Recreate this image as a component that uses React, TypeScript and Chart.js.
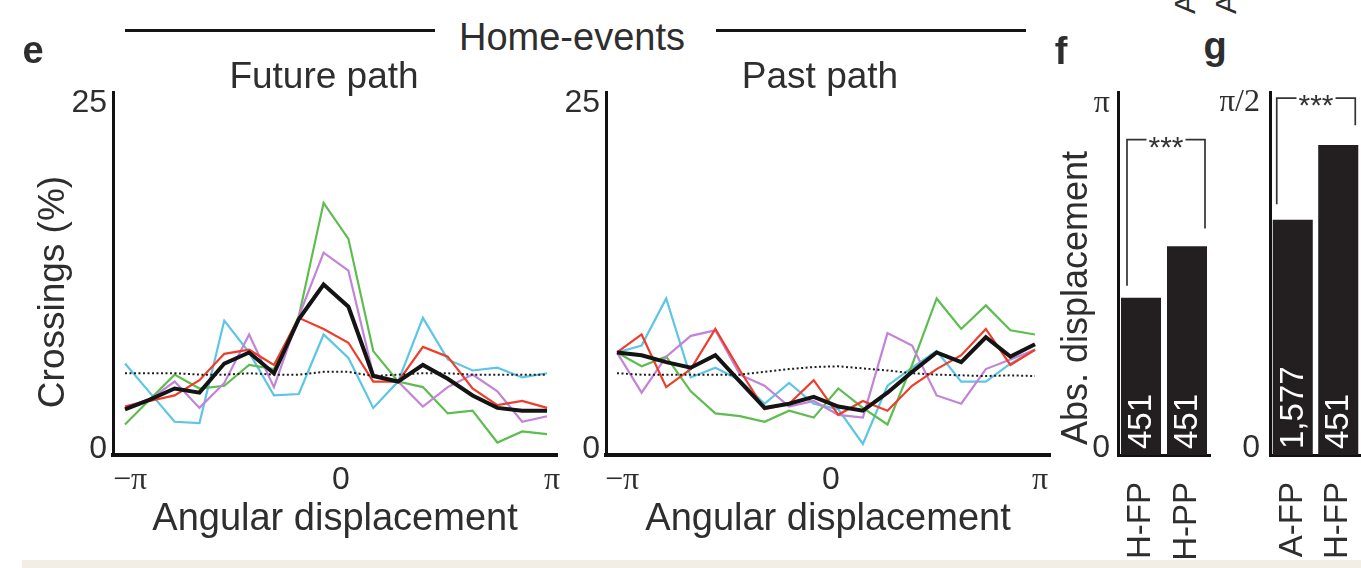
import React, { useEffect, useRef } from "react";
import { Chart, registerables } from "chart.js";

Chart.register(...registerables);

const SANS = "'Liberation Sans', Arial, Helvetica, sans-serif";
const SERIF = "'Liberation Serif', 'Times New Roman', serif";
const TEXT = "#2e2e2e";

// bin centres, -π … π (18 bins)
const angles = [-3.1416, -2.772, -2.4024, -2.0328, -1.6632, -1.2936, -0.924, -0.5544, -0.1848, 0.1848, 0.5544, 0.924, 1.2936, 1.6632, 2.0328, 2.4024, 2.772, 3.1416];

// e, Future path (Crossings %)
const futureMean = [2.9, 3.6, 4.4, 4.1, 6.2, 7.0, 5.5, 9.4, 11.9, 10.3, 5.3, 4.9, 6.1, 5.1, 3.9, 3.0, 2.8, 2.8];
const futureGreen = [1.8, 3.6, 5.4, 4.4, 4.6, 6.1, 5.8, 9.6, 17.8, 15.2, 7.1, 4.9, 4.5, 2.6, 2.8, 0.5, 1.3, 1.1];
const futureCyan = [6.2, 4.1, 2.0, 1.9, 9.3, 7.0, 3.9, 4.0, 8.3, 6.6, 3.0, 4.9, 9.5, 6.5, 5.7, 5.9, 5.2, 5.5];
const futurePurple = [3.1, 3.6, 4.9, 3.0, 4.8, 8.3, 4.5, 9.6, 14.2, 12.9, 5.4, 4.9, 3.1, 4.5, 5.4, 4.2, 2.0, 2.4];
const futureRed = [3.1, 3.5, 3.9, 5.0, 6.9, 7.2, 6.1, 9.5, 8.7, 7.7, 4.9, 4.9, 7.4, 6.7, 4.4, 3.2, 3.5, 3.0];
const futureChance = [5.5, 5.5, 5.5, 5.4, 5.4, 5.5, 5.4, 5.4, 5.6, 5.6, 5.3, 5.4, 5.5, 5.5, 5.4, 5.4, 5.4, 5.4];

// e, Past path (Crossings %)
const pastMean = [7.0, 6.8, 6.3, 5.9, 6.8, 4.9, 3.0, 3.3, 3.8, 3.1, 2.8, 4.1, 5.6, 7.0, 6.3, 8.1, 6.7, 7.6];
const pastGreen = [7.0, 6.0, 6.7, 4.2, 2.6, 2.4, 2.0, 2.8, 2.3, 4.4, 3.0, 1.8, 6.1, 10.9, 8.7, 10.4, 8.6, 8.3];
const pastCyan = [7.0, 7.5, 10.9, 5.2, 5.9, 5.0, 3.3, 4.8, 3.3, 2.9, 0.4, 4.6, 5.9, 7.1, 4.9, 4.9, 6.2, 7.2];
const pastPurple = [7.0, 4.1, 6.7, 8.2, 8.6, 5.4, 4.6, 3.1, 3.5, 2.5, 2.3, 8.4, 7.5, 3.9, 3.3, 5.8, 6.5, 7.2];
const pastRed = [7.0, 8.3, 4.5, 5.8, 8.7, 5.7, 2.9, 3.3, 5.0, 2.5, 3.5, 2.8, 4.6, 5.8, 6.8, 8.7, 6.1, 7.2];
const pastChance = [5.5, 5.4, 5.4, 5.4, 5.4, 5.4, 5.6, 5.8, 5.95, 6.0, 5.85, 5.7, 5.5, 5.4, 5.35, 5.3, 5.35, 5.3];

const xTickValues = [-Math.PI, 0, Math.PI];
const xTickLabels = ["−π", "0", "π"];
const yTickValues = [0, 25];
const yTickLabels = ["0", "25"];

// f, g bars (abs. displacement, rad)
const fCategories = ["H-FP", "H-PP"];
const fValues = [1.37, 1.84];
const fCounts = ["451", "451"];
const fTickValues = [0, Math.PI];
const fTickLabels = ["0", "π"];

const gCategories = ["A-FP", "H-FP"];
const gValues = [1.04, 1.38];
const gCounts = ["1,577", "451"];
const gTickValues = [0, Math.PI / 2];
const gTickLabels = ["0", "π/2"];

// significance brackets (data units)
const fBracket = { text: "***", leftFrom: 1.48, rightFrom: 2.0, top: 2.81, insetL: 6, insetR: 2 };
const gBracket = { text: "***", leftFrom: 1.11, rightFrom: 1.47, top: 1.593, insetL: 4, insetR: 3 };

const COLORS = {
  mean: "#141414",
  chance: "#1e1e1e",
  red: "#ee3d2b",
  purple: "#c283d8",
  green: "#5dbd4f",
  cyan: "#5cc6e4",
};

const pts = (ys: number[]) => ys.map((y, i) => ({ x: angles[i], y }));

const noPadX = (h: number) => (sc: any) => {
  sc.height = h;
  sc.paddingLeft = 0;
  sc.paddingRight = 0;
};
const noPadY = (w: number) => (sc: any) => {
  sc.width = w;
  sc.paddingTop = 0;
  sc.paddingBottom = 0;
};

function lineConfig(s: any, g: any): any {
  const ds = (data: number[], color: string, width: number, dash?: number[]) => ({
    data: pts(data),
    borderColor: color,
    backgroundColor: color,
    borderWidth: width,
    borderDash: dash || [],
    pointRadius: 0,
    tension: 0,
    fill: false,
  });
  return {
    type: "line",
    data: {
      datasets: [
        ds(s.mean, COLORS.mean, 4),
        ds(s.chance, COLORS.chance, 2, [2, 2.5]),
        ds(s.red, COLORS.red, 2.2),
        ds(s.purple, COLORS.purple, 2.2),
        ds(s.green, COLORS.green, 2.2),
        ds(s.cyan, COLORS.cyan, 2.2),
      ],
    },
    options: {
      animation: false,
      responsive: false,
      maintainAspectRatio: false,
      events: [],
      layout: { padding: g.padding },
      plugins: { legend: { display: false }, tooltip: { enabled: false }, title: { display: false } },
      scales: {
        x: {
          type: "linear",
          min: g.xMin,
          max: g.xMax,
          afterFit: noPadX(g.xHeight),
          afterBuildTicks: (sc: any) => { sc.ticks = xTickValues.map((v) => ({ value: v })); },
          grid: { display: false, drawTicks: false },
          border: { display: true, color: "#111", width: 4 },
          ticks: {
            autoSkip: false,
            maxRotation: 0,
            padding: 6,
            labelOffset: 5,
            color: TEXT,
            font: (ctx: any) => ({ family: ctx.tick && ctx.tick.value === 0 ? SANS : SERIF, size: 32 }),
            callback: (v: number) => xTickLabels[xTickValues.findIndex((t) => Math.abs(t - v) < 1e-6)],
          },
          title: {
            display: true,
            text: "Angular displacement",
            color: TEXT,
            font: { family: SANS, size: 38 },
            padding: { top: 0, bottom: 18 },
          },
        },
        y: {
          type: "linear",
          min: -0.4,
          max: 25.8,
          afterFit: noPadY(g.yWidth),
          afterBuildTicks: (sc: any) => { sc.ticks = yTickValues.map((v) => ({ value: v })); },
          grid: { display: false, drawTicks: false },
          border: { display: true, color: "#111", width: 3 },
          ticks: {
            autoSkip: false,
            padding: 6,
            color: TEXT,
            font: { family: SANS, size: 32 },
            callback: (v: number) => yTickLabels[yTickValues.indexOf(v)],
          },
          title: { display: false },
        },
      },
    },
  };
}

const barTextPlugin = {
  id: "barText",
  afterDatasetsDraw(chart: any, _a: any, opts: any) {
    if (!opts || !opts.labels) return;
    const ctx = chart.ctx;
    const meta = chart.getDatasetMeta(0);
    ctx.save();
    ctx.fillStyle = "#ffffff";
    ctx.font = `33px ${SANS}`;
    ctx.textAlign = "left";
    ctx.textBaseline = "middle";
    meta.data.forEach((bar: any, i: number) => {
      ctx.save();
      ctx.translate(bar.x + 1, bar.base - 6);
      ctx.rotate(-Math.PI / 2);
      ctx.fillText(opts.labels[i], 0, 0);
      ctx.restore();
    });
    ctx.restore();
  },
};

const bracketPlugin = {
  id: "sigBracket",
  afterDatasetsDraw(chart: any, _a: any, b: any) {
    if (!b || !b.text) return;
    const ctx = chart.ctx;
    const meta = chart.getDatasetMeta(0);
    const b0 = meta.data[0];
    const b1 = meta.data[1];
    const ys = chart.scales.y;
    const xL = b0.x - b0.width / 2 + b.insetL;
    const xR = b1.x + b1.width / 2 - b.insetR;
    const yT = ys.getPixelForValue(b.top);
    const yL = ys.getPixelForValue(b.leftFrom);
    const yR = ys.getPixelForValue(b.rightFrom);
    ctx.save();
    ctx.strokeStyle = "#333";
    ctx.lineWidth = 1.7;
    ctx.font = `30px ${SANS}`;
    const tw = ctx.measureText(b.text).width;
    const cx = (xL + xR) / 2;
    ctx.beginPath();
    ctx.moveTo(xL, yL);
    ctx.lineTo(xL, yT);
    ctx.lineTo(cx - tw / 2 - 2, yT);
    ctx.moveTo(cx + tw / 2 + 2, yT);
    ctx.lineTo(xR, yT);
    ctx.lineTo(xR, yR);
    ctx.stroke();
    ctx.fillStyle = "#333";
    ctx.textAlign = "center";
    ctx.textBaseline = "alphabetic";
    ctx.fillText(b.text, cx, yT + 17);
    ctx.restore();
  },
};

function barConfig(g: any): any {
  return {
    type: "bar",
    data: {
      labels: g.labels,
      datasets: [
        {
          data: g.values,
          backgroundColor: "#231f20",
          borderWidth: 0,
          base: g.yMin,
          barPercentage: g.barPct,
          categoryPercentage: 1,
        },
      ],
    },
    plugins: [barTextPlugin, bracketPlugin],
    options: {
      animation: false,
      responsive: false,
      maintainAspectRatio: false,
      events: [],
      layout: { padding: g.padding },
      plugins: {
        legend: { display: false },
        tooltip: { enabled: false },
        barText: { labels: g.counts },
        sigBracket: g.bracket,
      },
      scales: {
        x: {
          type: "category",
          afterFit: noPadX(g.xHeight),
          grid: { display: false, drawTicks: false },
          border: { display: true, color: "#111", width: 3 },
          ticks: {
            autoSkip: false,
            minRotation: 90,
            maxRotation: 90,
            padding: 27,
            color: TEXT,
            font: { family: SANS, size: 33 },
          },
        },
        y: {
          type: "linear",
          min: g.yMin,
          max: g.yMax,
          afterFit: noPadY(g.yWidth),
          afterBuildTicks: (sc: any) => { sc.ticks = g.tickValues.map((v: number) => ({ value: v })); },
          grid: { display: false, drawTicks: false },
          border: { display: true, color: "#111", width: 3 },
          ticks: {
            autoSkip: false,
            padding: g.tickPad,
            color: TEXT,
            font: (ctx: any) => ({ family: ctx.tick && ctx.tick.value === 0 ? SANS : SERIF, size: 32 }),
            callback: (v: number) => g.tickLabels[g.tickValues.findIndex((t: number) => Math.abs(t - v) < 1e-6)],
          },
          title: { display: false },
        },
      },
    },
  };
}

function ChartCanvas({ make, left, top, width, height }: any) {
  const ref = useRef<HTMLCanvasElement>(null);
  useEffect(() => {
    const chart = new Chart(ref.current as HTMLCanvasElement, make());
    return () => chart.destroy();
  }, []);
  return (
    <canvas
      ref={ref}
      width={width}
      height={height}
      style={{ position: "absolute", left, top, width, height }}
    />
  );
}

function Text({ x, y, children, size = 35, bold = false, rotate = 0, family = SANS }: any) {
  return (
    <div
      style={{
        position: "absolute",
        left: x,
        top: y,
        transform: `translate(-50%, -50%) rotate(${rotate}deg)`,
        fontFamily: family,
        fontSize: size,
        fontWeight: bold ? 700 : 400,
        color: TEXT,
        whiteSpace: "nowrap",
        lineHeight: 1,
      }}
    >
      {children}
    </div>
  );
}

export default function App() {
  return (
    <div style={{ position: "absolute", left: 0, top: 0, width: 1361, height: 568, background: "#fff", overflow: "hidden" }}>
      <ChartCanvas
        left={0}
        top={80}
        width={566}
        height={480}
        make={() =>
          lineConfig(
            { mean: futureMean, chance: futureChance, red: futureRed, purple: futurePurple, green: futureGreen, cyan: futureCyan },
            { padding: { top: 12, right: 9, left: 0, bottom: 0 }, xMin: -3.32, xMax: 3.29, xHeight: 105, yWidth: 113 }
          )
        }
      />
      <ChartCanvas
        left={566}
        top={80}
        width={494}
        height={480}
        make={() =>
          lineConfig(
            { mean: pastMean, chance: pastChance, red: pastRed, purple: pastPurple, green: pastGreen, cyan: pastCyan },
            { padding: { top: 12, right: 10, left: 0, bottom: 0 }, xMin: -3.307, xMax: 3.367, xHeight: 105, yWidth: 40 }
          )
        }
      />
      <ChartCanvas
        left={1040}
        top={80}
        width={180}
        height={480}
        make={() =>
          barConfig({
            labels: fCategories, values: fValues, counts: fCounts, tickValues: fTickValues, tickLabels: fTickLabels,
            yMin: -0.06, yMax: 3.243, bracket: fBracket, barPct: 0.87, tickPad: 8,
            padding: { top: 12, right: 10, left: 0, bottom: 0 }, xHeight: 105, yWidth: 78,
          })
        }
      />
      <ChartCanvas
        left={1220}
        top={80}
        width={141}
        height={480}
        make={() =>
          barConfig({
            labels: gCategories, values: gValues, counts: gCounts, tickValues: gTickValues, tickLabels: gTickLabels,
            yMin: -0.03, yMax: 1.621, bracket: gBracket, barPct: 0.88, tickPad: 10,
            padding: { top: 12, right: 0, left: 0, bottom: 0 }, xHeight: 105, yWidth: 50,
          })
        }
      />

      <Text x={51} y={292} size={37} rotate={-90}>Crossings (%)</Text>
      <Text x={1075} y={298} size={36} rotate={-90}>Abs. displacement</Text>
      <Text x={33} y={50} size={38} bold>e</Text>
      <Text x={1061} y={51} size={38} bold>f</Text>
      <Text x={1215} y={46} size={38} bold>g</Text>
      <div style={{ position: "absolute", left: 125, top: 29, width: 310, height: 3, background: "#151515" }} />
      <div style={{ position: "absolute", left: 716, top: 29, width: 310, height: 3, background: "#151515" }} />
      <Text x={572} y={37} size={38}>Home-events</Text>
      <Text x={324} y={75} size={37}>Future path</Text>
      <Text x={820} y={75} size={37}>Past path</Text>
      <Text x={1185} y={4} size={30} rotate={-90}>A</Text>
      <Text x={1226} y={4} size={30} rotate={-90}>A</Text>
      <div style={{ position: "absolute", left: 22, top: 560, width: 1339, height: 8, background: "#f2eee6" }} />
    </div>
  );
}
